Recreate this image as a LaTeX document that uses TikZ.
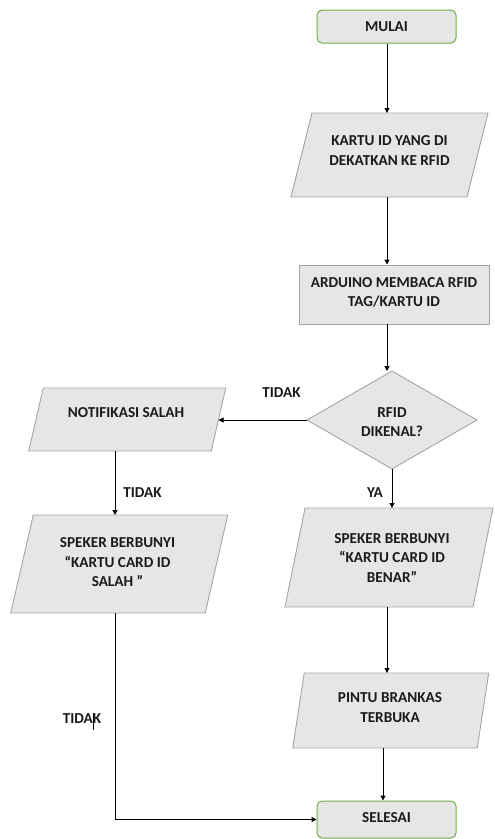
\documentclass[tikz,border=0pt]{standalone}
\usepackage{fontspec}
\setmainfont{Carlito}
\usetikzlibrary{arrows.meta,backgrounds}
\definecolor{boxfill}{HTML}{E7E6E6}
\definecolor{boxline}{HTML}{A5A5A5}
\definecolor{termline}{HTML}{70AD47}
\definecolor{txt}{HTML}{1A1A1A}
\begin{document}
\begin{tikzpicture}[x=1pt,y=-1pt,
  lbl/.style={font=\bfseries\fontsize{15.2}{19.5}\selectfont, text=txt, align=center, inner sep=0},
  term/.style={draw=termline, fill=boxfill, rounded corners=5pt, line width=1pt, minimum width=139pt, inner sep=0},
  procbox/.style={draw=boxline, fill=boxfill, line width=0.9pt, inner sep=0},
  hold/.style={inner sep=0, outer sep=0},
  shapeline/.style={draw=boxline, fill=boxfill, line width=0.9pt},
  arr/.style={draw=black, line width=1pt, -{Triangle[length=5pt,width=5pt]}},
  plain/.style={draw=black, line width=1pt}]
\useasboundingbox (0,0) rectangle (495,839);
% geometry holders
\node[term, minimum height=33pt] (mulai) at (386.5,26.5) {};
\node[hold, minimum width=176pt, minimum height=84pt] (p1) at (389.5,155) {};
\node[procbox, minimum width=190pt, minimum height=59pt] (ard) at (394,294.5) {};
\node[hold, minimum width=170pt, minimum height=98pt] (dia) at (392,420) {};
\node[hold, minimum width=182.5pt, minimum height=63pt] (notif) at (127.25,419.5) {};
\node[hold, minimum width=194.5pt, minimum height=98pt] (spkL) at (119.25,564) {};
\node[hold, minimum width=188pt, minimum height=99pt] (spkR) at (389,557.5) {};
\node[hold, minimum width=184.5pt, minimum height=75pt] (pintu) at (390.75,710.5) {};
\node[term, minimum height=37pt] (selesai) at (386.5,819.5) {};
\begin{scope}[on background layer]
\foreach \n/\s in {p1/10.5, notif/7.25, spkL/11.25, spkR/10, pintu/5.75}
  \draw[shapeline] ([xshift=\s pt]\n.north east) -- ([xshift=-\s pt]\n.south east)
     -- ([xshift=-\s pt]\n.south west) -- ([xshift=\s pt]\n.north west) -- cycle;
\draw[shapeline] (dia.north) -- (dia.east) -- (dia.south) -- (dia.west) -- cycle;
\end{scope}
% texts
\node[lbl] (tmulai) at (386.5,27) {MULAI};
\node[lbl] (tp1) at (389.5,150.5) {KARTU ID YANG DI\\DEKATKAN KE RFID};
\node[lbl] (tard) at (394,292.5) {ARDUINO MEMBACA RFID\\TAG/KARTU ID};
\node[lbl] (tdia) at (392,422) {RFID\\DIKENAL?};
\node[lbl] (tnotif) at (126,413) {NOTIFIKASI SALAH};
\node[lbl] (tspkL) at (117.5,562.5) {SPEKER BERBUNYI\\``KARTU CARD ID\\SALAH ''};
\node[lbl] (tspkR) at (392,558) {SPEKER BERBUNYI\\``KARTU CARD ID\\BENAR''};
\node[lbl] (tpintu) at (390,707.5) {PINTU BRANKAS\\TERBUKA};
\node[lbl] (tsel) at (386.5,818) {SELESAI};
% column coordinates
\coordinate (cx) at (387,0);
\coordinate (rx) at (383,0);
\coordinate (lx) at (115,0);
% connectors
\draw[arr] (cx |- mulai.south) -- (cx |- p1.north);
\draw[arr] (cx |- p1.south) -- (cx |- ard.north);
\draw[arr] (cx |- ard.south) -- (cx |- dia.north);
\draw[arr] (dia.west) -- (dia.west -| notif.east);
\draw[arr] (dia.south) -- (dia.south |- spkR.north);
\draw[arr] (lx |- notif.south) -- (lx |- spkL.north);
\draw[arr] (cx |- spkR.south) -- (cx |- pintu.north);
\draw[arr] (rx |- pintu.south) -- (rx |- selesai.north);
\draw[plain] (lx |- spkL.south) -- (lx |- selesai.west);
\draw[arr] (lx |- selesai.west) -- (selesai.west);
% labels
\node[lbl] (l1) at (281.5,393) {TIDAK};
\node[lbl] (l2) at (142.5,493) {TIDAK};
\node[lbl] (l3) at (375,493) {YA};
\node[lbl] (l4) at (82,719) {TIDAK};
\coordinate (tk1) at (93,713);
\coordinate (tk2) at (93,730);
\draw[black, line width=0.8pt] (tk1) -- (tk2);
\end{tikzpicture}
\end{document}
